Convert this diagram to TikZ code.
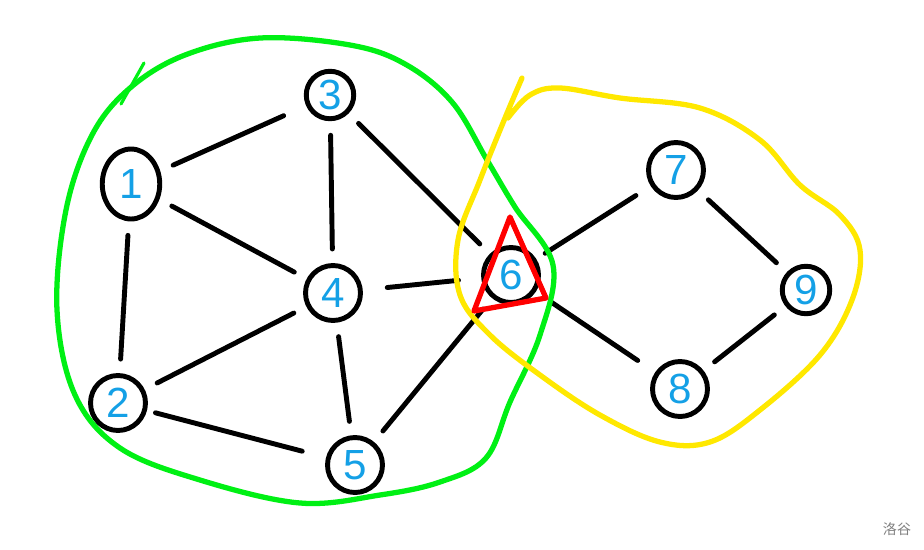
\documentclass[tikz,border=0pt]{standalone}
\usepackage{fontspec}
\setmainfont{Liberation Sans}
\newfontfamily\cjk{Noto Sans CJK SC}
\usetikzlibrary{shapes.geometric}
\definecolor{numblue}{RGB}{20,160,230}
\definecolor{grpgreen}{RGB}{0,240,20}
\definecolor{grpyellow}{RGB}{255,232,0}
\definecolor{cutred}{RGB}{255,0,0}

\begin{document}
\begin{tikzpicture}[x=0.02cm, y=-0.02cm,
    vertex/.style={circle, draw=black, line width=2.8pt, minimum size=1.1cm, inner sep=0pt,
        text=numblue, font=\fontsize{24}{24}\selectfont},
    edge/.style={line width=2.8pt, line cap=round, shorten <=8pt, shorten >=8pt},
    blob/.style={line width=3pt, line cap=round, line join=round}]
    \useasboundingbox (0,0) rectangle (924,549);

    % Sommets
    \node[vertex, ellipse, minimum width=1.15cm, minimum height=1.4cm] (n1) at (131,184) {1};
    \node[vertex] (n2) at (118,403) {2};
    \node[vertex, minimum size=0.95cm] (n3) at (330,95) {3};
    \node[vertex] (n4) at (333,293) {4};
    \node[vertex] (n5) at (355,465) {5};
    \node[vertex] (n6) at (511,275) {6};
    \node[vertex] (n7) at (676,170) {7};
    \node[vertex] (n8) at (680,389) {8};
    \node[vertex, minimum size=0.95cm] (n9) at (806,290) {9};

    % Aretes
    \draw[edge, shorten >=14pt] (n1) -- (n3);
    \draw[edge] (n1) -- (n4);
    \draw[edge] (n1) -- (n2);
    \draw[edge] (n3) -- (n4);
    \draw[edge] (n3) -- (n6);
    \draw[edge, shorten <=14pt, shorten >=13pt] (n4) -- (n6);
    \draw[edge] (n4) -- (n2);
    \draw[edge] (n4) -- (n5);
    \draw[edge, shorten <=5pt, shorten >=14pt] (n2) -- (n5);
    \draw[edge] (n5) -- (n6);
    \draw[edge, shorten <=6pt, shorten >=10pt] (n6) -- (n7);
    \draw[edge, shorten <=10pt, shorten >=12pt] (n6) -- (n8);
    \draw[edge] (n7) -- (n9);
    \draw[edge] (n8) -- (n9);

    % Composante verte
    \draw[blob, grpgreen] plot[smooth cycle, tension=0.6] coordinates {
        (260,38) (350,45) (405,64) (452,102) (487,160) (515,207) (553,265) (540,335)
        (510,402) (486,458) (440,482) (380,495) (300,503) (200,480) (120,448)
        (75,395) (57,310) (66,210) (92,135) (130,88) (185,55)};
    \draw[grpgreen, line width=1.8pt, line cap=round] (144,63) -- (121,104);

    % Composante jaune
    \draw[blob, grpyellow] plot[smooth, tension=0.6] coordinates {
        (522,78) (505,118) (480,180) (458,240) (460,295) (490,335) (540,375)
        (600,415) (660,442) (710,442) (760,410) (820,355) (852,300) (860,250)
        (840,215) (800,185) (760,140) (700,108) (620,98) (560,88) (530,95) (508,118)};

    % Point d'articulation
    \draw[cutred, line width=3pt, line join=round] (510,217) -- (474,311) -- (546,298) -- cycle;

    \node[text=gray, font=\cjk\fontsize{8}{8}\selectfont] (wm) at (897,529) {洛谷};
\end{tikzpicture}
\end{document}
